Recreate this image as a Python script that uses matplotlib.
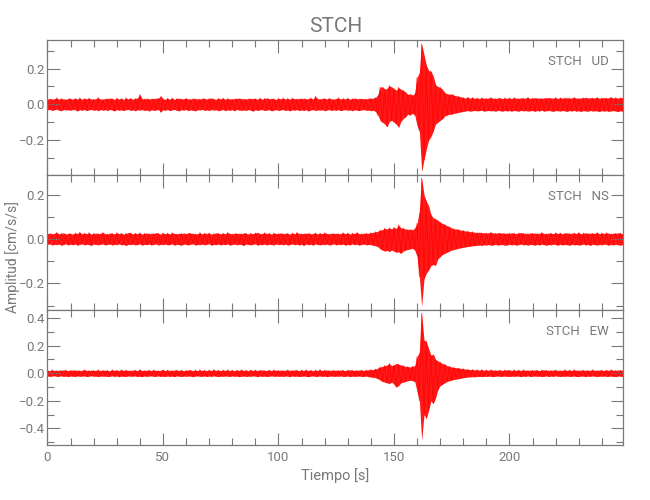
import numpy as np
import matplotlib
matplotlib.use('Agg')
import matplotlib.pyplot as plt
from matplotlib.ticker import MultipleLocator
from matplotlib import font_manager

names = set(f.name for f in font_manager.fontManager.ttflist)
narrow = 'Liberation Sans Narrow' if 'Liberation Sans Narrow' in names else 'Roboto'
plt.rcParams['font.family'] = [narrow, 'DejaVu Sans']

# peak amplitudes read per second (units of 0.001 cm/s/s), upper and lower swing
ud_hi = [30,34,28,32,36,29,33,31,27,35,32,29,34,30,36,28,33,31,35,30,29,33,37,30,28,
         34,31,36,32,29,35,30,33,28,36,31,34,29,33,37,55,32,30,35,29,34,31,36,33,50,
         31,29,34,30,36,28,33,35,30,32,34,31,28,36,30,33,29,35,32,30,33,36,30,28,34,
         31,35,29,33,31,29,34,32,36,30,33,28,35,31,34,32,30,35,29,33,37,30,34,31,28,
         34,31,36,30,33,29,35,32,30,34,31,35,29,33,36,30,45,32,29,34,33,30,35,31,28,
         34,36,30,33,31,35,29,32,36,30,34,31,33,29,35,33,36,38,55,95,100,85,90,105,98,
         88,80,95,85,78,70,55,60,50,65,150,180,338,280,220,190,185,160,110,100,95,85,65,60,55,
         60,50,48,45,42,38,36,40,35,38,34,36,33,37,35,33,36,38,34,32,37,35,33,36,34,
         36,33,38,35,32,37,34,36,39,33,35,38,34,36,33,37,35,39,34,36,38,33,37,35,36,
         38,34,36,39,35,33,37,36,40,34,38,35,37,39,34,36,38,35,37,40,36,38,35,37,39]
ud_lo = [31,28,35,30,27,33,36,29,32,30,34,28,31,37,30,33,29,35,31,28,34,30,36,29,33,
         30,35,28,32,37,29,33,31,35,30,28,34,31,36,30,33,29,35,31,38,30,34,32,29,43,
         30,33,29,35,31,28,34,36,30,32,29,35,31,33,37,30,32,28,34,31,35,29,33,30,36,
         32,29,35,31,33,30,36,28,32,34,31,35,29,33,38,30,34,31,29,35,32,30,36,33,29,
         35,31,29,34,32,36,30,33,29,35,31,34,30,37,32,29,35,31,33,30,36,32,29,34,31,
         33,30,35,32,29,34,31,36,30,33,35,31,29,34,32,36,33,40,60,90,100,110,125,95,90,
         100,110,130,95,80,70,55,60,50,60,120,150,376,310,250,200,180,150,110,100,90,80,65,60,55,
         55,50,48,45,42,40,37,35,38,36,34,37,35,33,38,36,34,37,35,39,33,36,38,34,37,
         35,38,34,36,39,33,37,35,38,36,34,39,35,37,33,38,36,34,37,39,35,36,38,34,37,
         39,35,37,34,38,36,40,35,37,39,34,38,36,37,40,35,38,36,39,37,35,38,40,36,38]

ns_hi = [24,27,22,26,29,23,25,28,21,26,24,22,27,25,30,23,26,24,28,22,25,27,23,26,29,
         24,22,27,25,23,28,24,26,22,25,29,27,23,26,24,28,22,25,27,23,26,24,29,25,22,
         27,24,26,23,28,25,22,26,24,27,23,29,25,26,22,24,28,23,26,25,27,22,24,28,25,
         23,26,24,29,25,22,27,24,26,23,28,25,22,26,24,27,30,23,25,28,24,26,22,27,25,
         24,28,23,26,25,22,27,24,29,25,23,26,24,28,22,25,27,23,26,24,28,25,22,27,24,
         26,23,25,28,24,27,22,26,25,29,24,23,27,25,26,28,30,32,35,40,42,48,45,50,46,
         52,48,63,50,48,45,42,45,40,50,70,130,273,200,170,150,110,95,90,85,75,70,65,60,55,
         50,45,45,42,40,38,36,35,33,32,30,28,31,27,29,26,28,30,27,25,29,26,28,24,27,
         25,28,26,24,27,29,25,26,23,28,25,27,24,26,29,25,23,27,26,24,28,25,27,23,26,
         28,24,26,27,25,29,23,26,28,24,27,25,26,29,24,27,25,28,26,23,27,25,28,26,24]
ns_lo = [25,22,28,24,26,23,29,25,22,27,24,26,23,28,25,22,27,24,26,29,23,25,27,24,22,
         27,25,23,28,24,26,22,27,25,30,24,26,23,27,25,22,28,24,26,23,27,25,22,28,24,
         26,23,27,25,22,28,24,26,29,23,25,27,24,22,28,25,26,23,27,24,22,28,25,26,23,
         27,24,26,22,28,25,23,27,24,26,29,23,25,27,24,22,28,25,26,23,27,24,25,28,22,
         26,24,27,23,28,25,22,26,24,27,25,29,23,26,24,28,22,25,27,24,26,23,28,25,22,
         27,24,26,23,28,25,27,22,26,24,28,25,23,27,25,26,29,31,35,45,50,55,52,57,50,
         55,60,58,65,55,50,48,45,42,50,80,170,304,180,155,140,120,115,120,90,80,70,65,60,55,
         50,48,45,42,40,38,36,34,33,31,30,29,27,30,26,28,25,29,27,24,28,26,25,29,27,
         24,27,25,28,26,23,27,25,29,24,26,28,25,27,24,26,29,25,27,23,26,28,24,27,25,
         26,29,24,27,25,28,26,23,27,25,29,24,26,28,25,27,23,26,28,25,27,24,26,29,25]

ew_hi = [22,19,24,21,18,23,20,25,22,19,21,24,20,23,18,22,25,21,19,23,20,22,24,19,21,
         23,20,18,24,21,22,19,25,20,23,21,18,24,22,20,26,21,19,23,22,20,24,21,18,22,
         25,20,23,21,19,24,22,20,23,18,21,25,22,19,23,20,24,21,22,19,23,20,26,21,22,
         19,23,21,24,20,22,18,23,21,25,20,22,19,24,21,23,20,22,25,19,21,23,20,24,22,
         20,23,19,22,24,21,20,25,22,19,23,21,24,20,22,18,23,21,25,20,22,24,19,23,21,
         22,20,24,21,19,23,25,21,22,20,24,22,21,23,25,26,28,30,38,45,50,55,60,70,55,
         60,72,65,60,55,50,48,45,50,55,120,155,433,240,230,180,130,140,100,90,80,70,65,55,50,
         45,42,40,38,35,33,30,28,26,27,24,25,23,26,22,24,21,25,23,20,24,22,21,23,25,
         22,20,24,21,23,19,25,22,20,23,21,24,22,19,23,25,21,22,20,24,23,21,19,22,24,
         21,23,20,25,22,19,24,21,23,20,22,25,21,19,24,22,20,23,21,25,22,20,24,21,23]
ew_lo = [20,23,21,18,24,22,19,23,21,25,20,22,24,19,23,21,20,24,22,18,23,21,25,20,22,
         21,24,22,19,23,20,25,21,22,24,19,23,21,20,24,22,25,20,23,21,19,24,22,20,23,
         22,24,20,23,21,25,19,22,24,21,23,20,22,25,21,19,23,22,20,24,21,23,19,22,25,
         21,23,20,22,24,19,23,21,25,22,20,24,21,23,19,22,25,20,23,21,24,22,19,23,21,
         23,21,24,20,22,25,19,23,21,24,22,20,23,25,21,19,24,22,20,23,21,25,22,20,24,
         21,23,19,24,22,20,25,21,23,22,20,24,23,21,25,28,30,33,40,50,60,65,70,75,65,
         80,100,90,70,65,60,55,50,55,60,135,200,487,300,330,270,200,220,180,120,90,80,70,60,55,
         50,45,42,40,36,33,30,28,27,25,26,24,23,25,22,24,21,23,25,22,20,24,22,21,23,
         24,21,23,20,22,25,21,23,19,24,22,20,23,21,25,22,20,24,21,23,19,22,24,21,23,
         20,24,22,21,23,25,20,22,24,21,23,19,22,25,21,23,20,24,22,21,23,25,20,22,24]

station = 'STCH'
components = ['UD', 'NS', 'EW']
ylims = [(-0.395, 0.36), (-0.32, 0.288), (-0.52, 0.458)]
traces = [(ud_hi, ud_lo), (ns_hi, ns_lo), (ew_hi, ew_lo)]

grey = '#787878'
fig, axes = plt.subplots(3, 1, figsize=(6.5, 5), dpi=100, sharex=True)
fig.subplots_adjust(left=0.073, right=0.959, top=0.92, bottom=0.11, hspace=0)

for ax, comp, (hi, lo), yl in zip(axes, components, traces, ylims):
    hi = np.array(hi) / 1000.
    lo = -np.array(lo) / 1000.
    t = np.arange(len(hi))
    zig = np.where(t % 2 == 0, hi, lo)
    ax.fill_between(t, lo, hi, color='red', alpha=0.9, lw=0)
    ax.plot(t, zig, color='red', lw=0.6, alpha=0.8)
    ax.set_xlim(0, 249.3)
    ax.set_ylim(*yl)
    ax.xaxis.set_major_locator(MultipleLocator(50))
    ax.xaxis.set_minor_locator(MultipleLocator(10))
    ax.yaxis.set_major_locator(MultipleLocator(0.2))
    ax.yaxis.set_minor_locator(MultipleLocator(0.1))
    ax.tick_params(which='both', direction='in', top=True, right=True,
                   color=grey, labelcolor=grey, labelsize=9.5, width=0.8, pad=2)
    ax.tick_params(which='major', length=9)
    ax.tick_params(which='minor', length=5)
    for sp in ax.spines.values():
        sp.set_color(grey)
        sp.set_linewidth(0.9)
    ax.text(0.974, 0.84, station + '   ' + comp, transform=ax.transAxes,
            ha='right', va='center', color=grey, fontsize=9.5)

axes[-1].xaxis.set_tick_params(pad=4)
axes[-1].set_xlabel('Tiempo [s]', color=grey, fontsize=10.5, labelpad=3)
fig.text(0.02, 0.485, 'Amplitud [cm/s/s]', rotation=90, color=grey,
         fontsize=10, ha='center', va='center')
axes[0].set_title(station, color=grey, fontsize=15, pad=6)

plt.savefig('out.png', dpi=100)
